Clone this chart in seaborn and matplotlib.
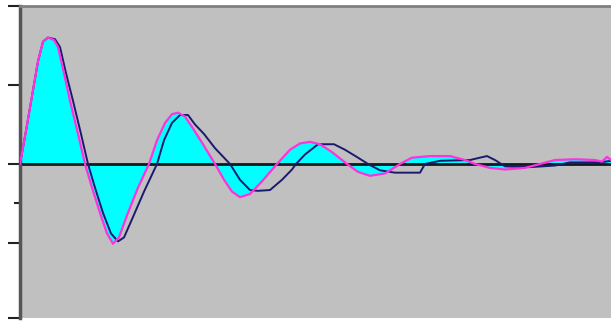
import matplotlib
matplotlib.use("Agg")
import matplotlib.pyplot as plt
import seaborn as sns
import pandas as pd

# sample positions (pixel-like time positions) and values
ref_px = [20, 26, 32, 38, 43, 48, 54, 58, 64, 70, 78, 85, 92, 100, 107, 113, 119, 127, 138,
          149, 157, 165, 172, 178, 185, 193, 203, 215, 224, 232, 240, 250, 262, 277, 290,
          300, 310, 320, 332, 347, 358, 370, 385, 400, 412, 430, 450, 465, 475, 490, 505,
          525, 540, 555, 575, 595, 602, 607, 611]
ref_val = [0, 0.42, 0.86, 1.3, 1.55, 1.6, 1.57, 1.48, 1.15, 0.8, 0.38, 0.0, -0.3, -0.62,
           -0.88, -1.01, -0.93, -0.65, -0.3, 0.0, 0.3, 0.52, 0.63, 0.65, 0.6, 0.45, 0.25,
           0.0, -0.2, -0.35, -0.42, -0.38, -0.22, 0.0, 0.18, 0.26, 0.28, 0.25, 0.15, 0.0,
           -0.1, -0.15, -0.12, 0.0, 0.08, 0.1, 0.1, 0.05, 0.0, -0.05, -0.07, -0.05, 0.0,
           0.05, 0.06, 0.05, 0.03, 0.09, 0.05]

resp_px = [20, 26, 32, 38, 43, 48, 55, 60, 66, 73, 81, 88, 95, 103, 111, 118, 124, 132, 144,
           157, 164, 172, 180, 188, 195, 204, 215, 230, 240, 250, 258, 270, 282, 292, 296,
           305, 318, 334, 345, 358, 368, 380, 395, 420, 425, 440, 470, 480, 487, 495, 505,
           530, 555, 570, 600, 611]
resp_val = [0, 0.42, 0.86, 1.3, 1.55, 1.6, 1.58, 1.48, 1.15, 0.8, 0.38, 0.0, -0.3, -0.62,
            -0.88, -0.98, -0.93, -0.7, -0.35, 0.0, 0.3, 0.52, 0.62, 0.62, 0.5, 0.38, 0.2,
            0.0, -0.2, -0.33, -0.34, -0.33, -0.2, -0.07, 0.0, 0.12, 0.25, 0.25, 0.18, 0.08,
            0.0, -0.08, -0.11, -0.11, 0.0, 0.04, 0.05, 0.08, 0.1, 0.05, -0.03, -0.04, -0.02,
            0.02, 0.02, 0.04]

y_ticks = [-1.95, -1, 0, 1, 2]
y_minor = [-0.5]


def to_t(px):
    return [(p - 20) / 5.91 for p in px]


ref_df = pd.DataFrame({"t": to_t(ref_px), "v": ref_val})
resp_df = pd.DataFrame({"t": to_t(resp_px), "v": resp_val})

sns.set_style("white", {"axes.facecolor": "#C0C0C0"})

fig = plt.figure(figsize=(6.11, 3.21), dpi=100)
ax = fig.add_axes([20 / 611, 3 / 321, 1 - 20 / 611, 312 / 321])
ax.set_facecolor("#C0C0C0")

ax.fill_between(ref_df["t"], ref_df["v"], 0, color="#00FFFF", linewidth=0, zorder=1)
ax.axhline(0, color="#101820", linewidth=2.0, zorder=2)
sns.lineplot(data=resp_df, x="t", y="v", ax=ax, color="#1A1A6E", linewidth=1.4,
             sort=False, estimator=None, zorder=3)
sns.lineplot(data=ref_df, x="t", y="v", ax=ax, color="#FF33DD", linewidth=1.6,
             sort=False, estimator=None, zorder=4)

ax.set_xlim(0, 100)
ax.set_ylim(-1.95, 2)
ax.set_yticks(y_ticks)
ax.set_yticks(y_minor, minor=True)
ax.set_yticklabels([])
ax.set_yticklabels([], minor=True)
ax.set_xticks([])
ax.set_xlabel("")
ax.set_ylabel("")
ax.tick_params(axis="y", which="major", direction="out", length=9, width=1.5,
               color="#222222", left=True)
ax.tick_params(axis="y", which="minor", direction="out", length=4, width=1.5,
               color="#222222", left=True)

for s in ["right", "bottom"]:
    ax.spines[s].set_visible(False)
ax.spines["left"].set_color("#555555")
ax.spines["left"].set_linewidth(2.5)
ax.spines["top"].set_color("#808080")
ax.spines["top"].set_linewidth(2)

fig.savefig("out.png", dpi=100, facecolor="white")
